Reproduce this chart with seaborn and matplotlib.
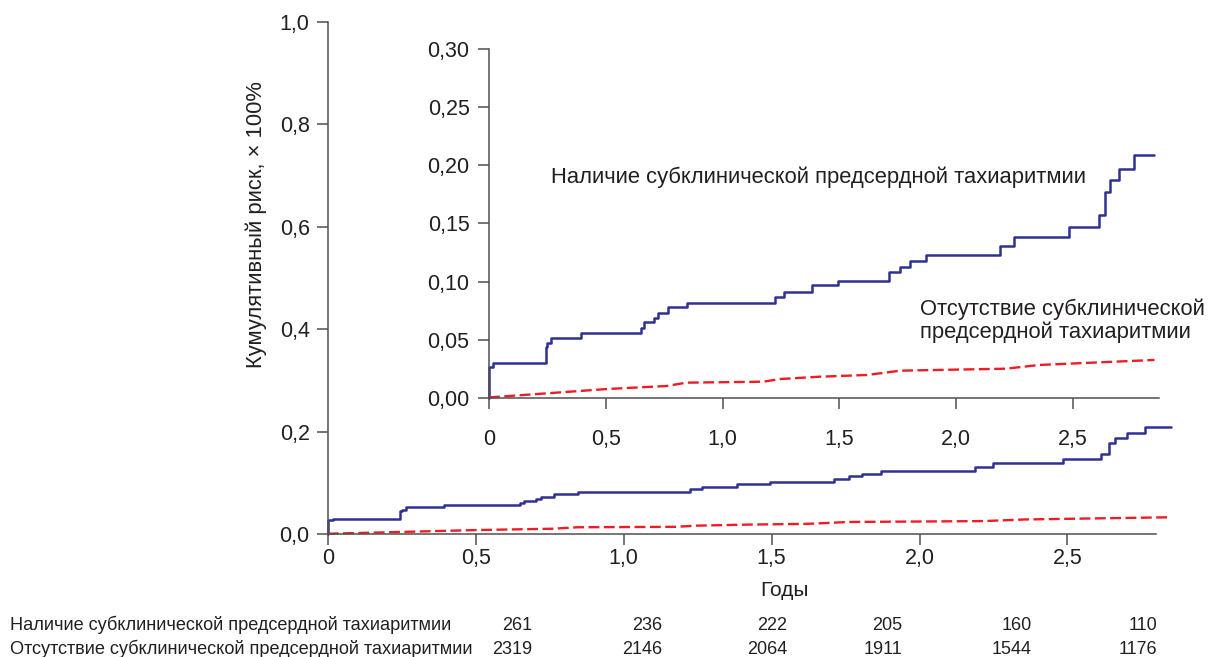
import matplotlib
matplotlib.use("Agg")
import matplotlib.pyplot as plt
import pandas as pd
import seaborn as sns

# ---------------- data ----------------
group_present = "Наличие субклинической предсердной тахиаритмии"
group_absent = "Отсутствие субклинической предсердной тахиаритмии"
label_absent_wrapped = "Отсутствие субклинической\nпредсердной тахиаритмии"

# Kaplan–Meier style cumulative risk, group with subclinical tachyarrhythmia (step function)
years_present = [0, 0, 0.018, 0.244, 0.250, 0.265, 0.394, 0.650, 0.665, 0.705,
                 0.722, 0.765, 0.846, 1.224, 1.264, 1.384, 1.494, 1.711, 1.761,
                 1.804, 1.870, 2.187, 2.247, 2.485, 2.612, 2.640, 2.660, 2.700,
                 2.763, 2.850]
risk_present = [0, 0.027, 0.030, 0.044, 0.047, 0.052, 0.056, 0.060, 0.065, 0.069,
                0.073, 0.078, 0.082, 0.087, 0.091, 0.097, 0.101, 0.108, 0.113,
                0.118, 0.123, 0.131, 0.138, 0.147, 0.157, 0.177, 0.187, 0.197,
                0.209, 0.209]

# group without subclinical tachyarrhythmia
years_absent = [0, 0.247, 0.504, 0.760, 0.846, 1.175, 1.246, 1.416, 1.620, 1.762,
                2.215, 2.357, 2.850]
risk_absent = [0.0005, 0.004, 0.0077, 0.0103, 0.0132, 0.0140, 0.0163, 0.0183,
               0.0198, 0.0235, 0.0252, 0.0284, 0.0327]

x_ticks = [0, 0.5, 1.0, 1.5, 2.0, 2.5]
x_tick_labels = ["0", "0,5", "1,0", "1,5", "2,0", "2,5"]
main_y_ticks = [0, 0.2, 0.4, 0.6, 0.8, 1.0]
main_y_tick_labels = ["0,0", "0,2", "0,4", "0,6", "0,8", "1,0"]
inset_y_ticks = [0, 0.05, 0.10, 0.15, 0.20, 0.25, 0.30]
inset_y_tick_labels = ["0,00", "0,05", "0,10", "0,15", "0,20", "0,25", "0,30"]

at_risk_present = [261, 236, 222, 205, 160, 110]
at_risk_absent = [2319, 2146, 2064, 1911, 1544, 1176]

y_label = "Кумулятивный риск, × 100%"
x_label = "Годы"

# ---------------- style ----------------
sns.set_theme(style="ticks")
plt.rcParams["font.family"] = ["Liberation Sans", "DejaVu Sans"]

TEXT = "#231f20"
AXIS = "#505050"
BLUE = "#2e3192"
RED = "#ee1c25"
TICK_FS = 15.5

W, H = 1209, 657
fig = plt.figure(figsize=(W / 100, H / 100), dpi=100)

df_present = pd.DataFrame({"t": years_present, "r": risk_present})
df_absent = pd.DataFrame({"t": years_absent, "r": risk_absent})


def draw_curves(ax):
    sns.lineplot(data=df_present, x="t", y="r", ax=ax, estimator=None, sort=False,
                 drawstyle="steps-post", color=BLUE, linewidth=1.8, clip_on=False)
    sns.lineplot(data=df_absent, x="t", y="r", ax=ax, estimator=None, sort=False,
                 color=RED, linewidth=1.7, clip_on=False)
    ax.lines[-1].set_dashes((4.6, 1.9))


def style_axes(ax):
    sns.despine(ax=ax)
    for side in ("left", "bottom"):
        ax.spines[side].set_color(AXIS)
        ax.spines[side].set_linewidth(1.1)
    ax.set_xlabel("")
    ax.set_ylabel("")


# ---- main axes ----
ax = fig.add_axes([327.7 / W, (H - 534) / H, (1174 - 327.7) / W, 512 / H])
draw_curves(ax)
ax.set_xlim(0, 2.86)
ax.set_ylim(0, 1.0)
style_axes(ax)
ax.spines["bottom"].set_bounds(0, 2.80)
ax.set_xticks(x_ticks, x_tick_labels)
ax.set_yticks(main_y_ticks, main_y_tick_labels)
ax.tick_params(axis="both", length=8, width=1.1, color=AXIS, labelsize=TICK_FS,
               labelcolor=TEXT)
ax.tick_params(axis="y", pad=5)
ax.tick_params(axis="x", pad=2)

# ---- inset axes (zoomed y range) ----
ax2 = fig.add_axes([489 / W, (H - 398) / H, (2.87 * 233.5) / W, 349 / H])
ax2.patch.set_alpha(0)
draw_curves(ax2)
ax2.set_xlim(0, 2.87)
ax2.set_ylim(0, 0.30)
style_axes(ax2)
ax2.set_xticks(x_ticks, x_tick_labels)
ax2.set_yticks(inset_y_ticks, inset_y_tick_labels)
ax2.tick_params(axis="both", length=8, width=1.1, color=AXIS, labelsize=TICK_FS,
                labelcolor=TEXT)
ax2.tick_params(axis="y", pad=6)
ax2.tick_params(axis="x", pad=14)

ax2.text(0.264, 0.190, group_present, fontsize=15.8, color=TEXT,
         ha="left", va="center")
ax2.text(1.846, 0.0665, label_absent_wrapped, fontsize=15.8, color=TEXT,
         ha="left", va="center", linespacing=1.1)

# ---- axis titles ----
fig.text(256 / W, 1 - 225 / H, y_label, rotation=90, fontsize=15.8, color=TEXT,
         ha="center", va="center")
fig.text(785 / W, 1 - 590 / H, x_label, fontsize=15, color=TEXT,
         ha="center", va="center")

# ---- number at risk ----
row_y = [625, 649]
col_right = [532, 662, 787, 902, 1032, 1157]
for yy, name, counts in zip(row_y, [group_present, group_absent],
                            [at_risk_present, at_risk_absent]):
    fig.text(10 / W, 1 - yy / H, name, fontsize=13.1, color=TEXT,
             ha="left", va="center")
    for xx, n in zip(col_right, counts):
        fig.text(xx / W, 1 - yy / H, str(n), fontsize=13, color=TEXT,
                 ha="right", va="center")

fig.savefig("out.png", dpi=100)
